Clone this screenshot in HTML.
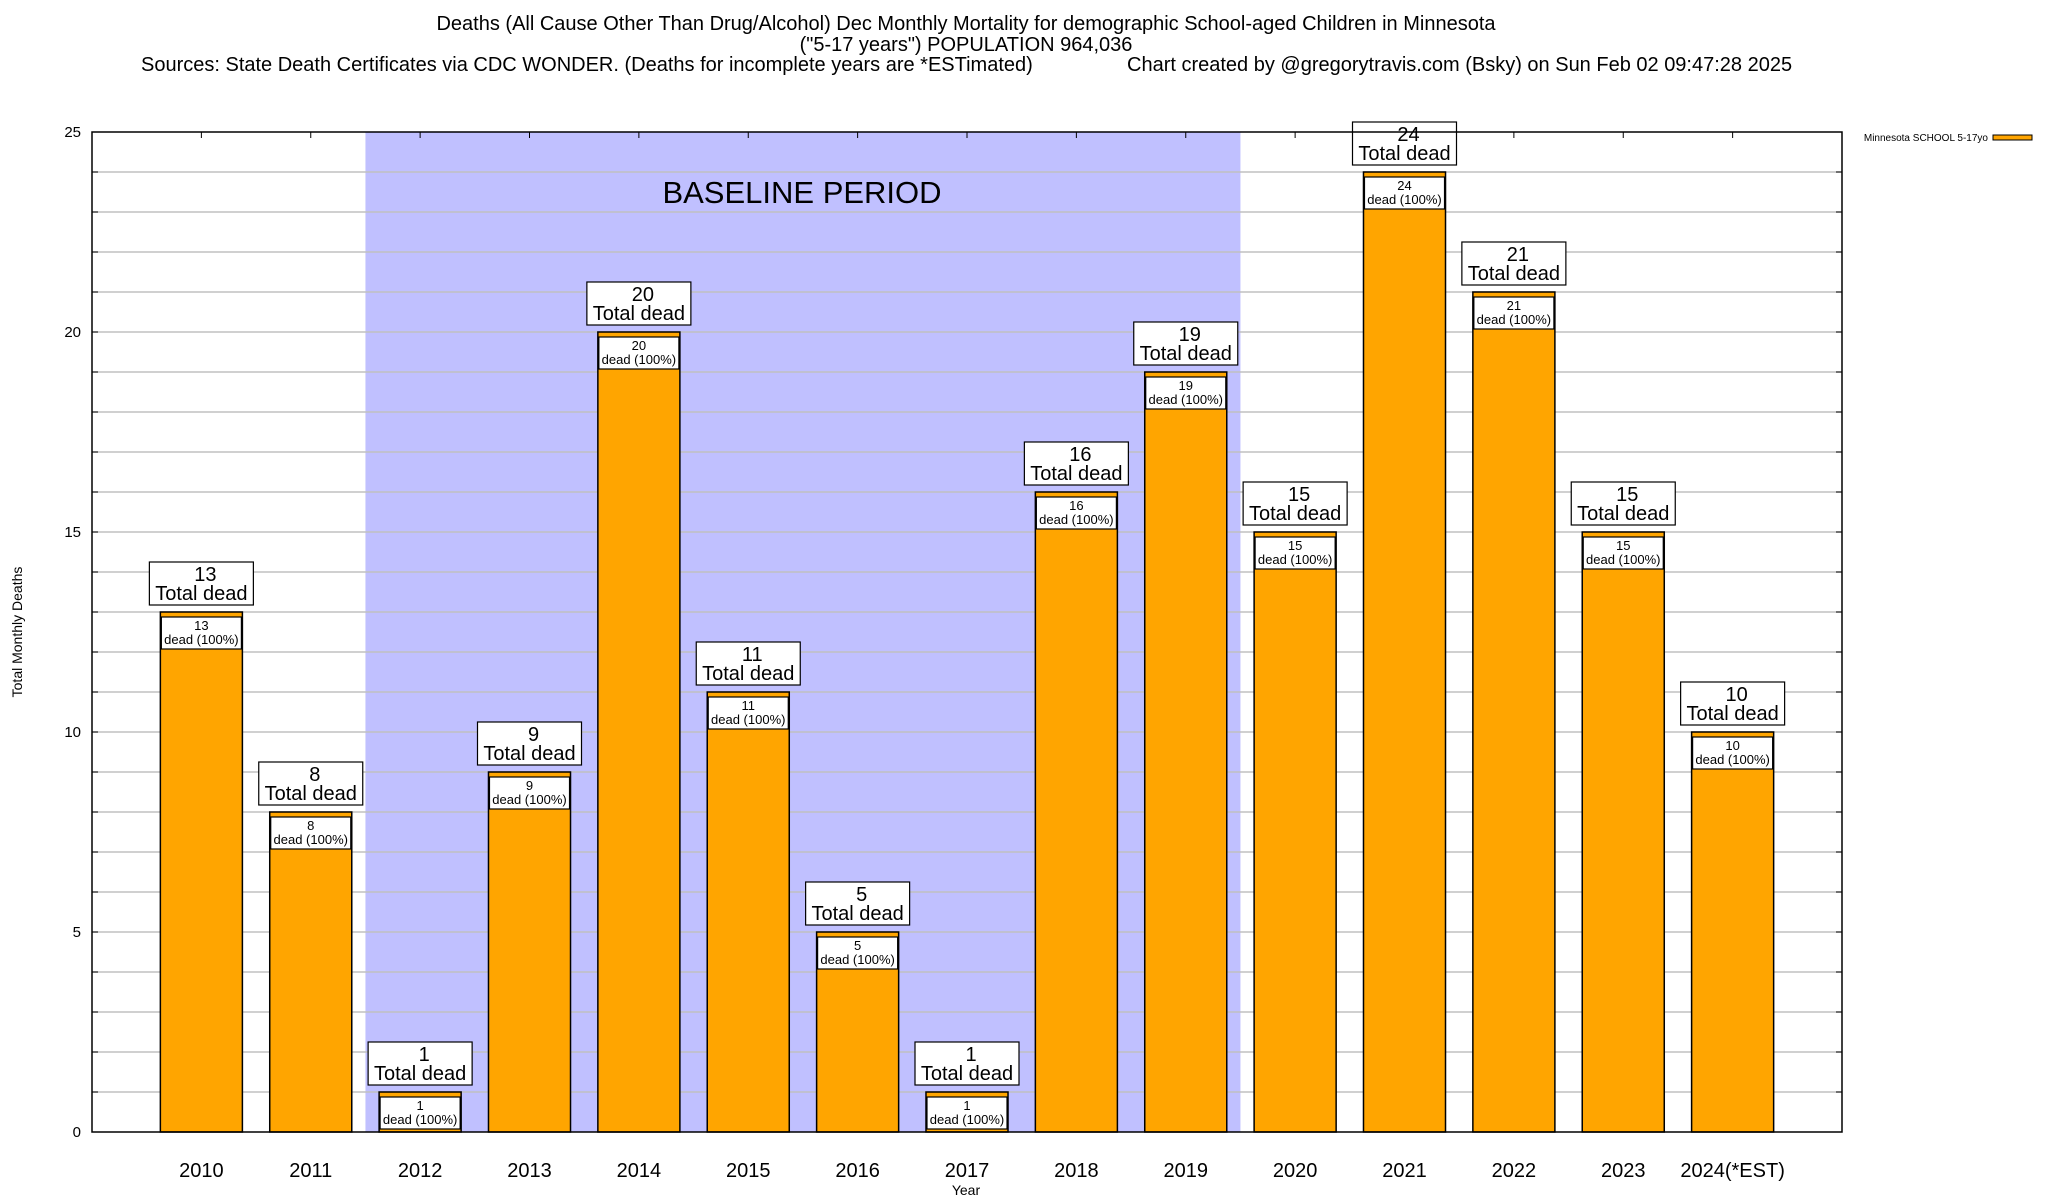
<!DOCTYPE html>
<html><head><meta charset="utf-8">
<style>
html,body{margin:0;padding:0;background:#fff;}
svg{display:block;font-family:"Liberation Sans",Arial,sans-serif;}
</style></head>
<body>
<svg id="chart" width="2048" height="1200" viewBox="0 0 2048 1200" xmlns="http://www.w3.org/2000/svg">
  <g font-size="20" fill="#000">
    <text x="966" y="30" text-anchor="middle">Deaths (All Cause Other Than Drug/Alcohol) Dec Monthly Mortality for demographic School-aged Children in Minnesota</text>
    <text x="966" y="51" text-anchor="middle">("5-17 years") POPULATION 964,036</text>
    <text x="141" y="71">Sources: State Death Certificates via CDC WONDER. (Deaths for incomplete years are *ESTimated)</text>
    <text x="1127" y="71">Chart created by @gregorytravis.com (Bsky) on Sun Feb 02 09:47:28 2025</text>
  </g>
  <g id="plot"></g>
  <text x="22" y="632" transform="rotate(-90 22 632)" text-anchor="middle" font-size="14">Total Monthly Deaths</text>
  <text x="966" y="1195" text-anchor="middle" font-size="14">Year</text>
  <g>
    <text x="1988" y="141" text-anchor="end" font-size="10">Minnesota SCHOOL 5-17yo</text>
    <rect x="1993" y="135" width="39" height="5" fill="#FFA500" stroke="#000" stroke-width="1"/>
  </g>
</svg>
<script>
const categories = ["2010","2011","2012","2013","2014","2015","2016","2017","2018","2019","2020","2021","2022","2023","2024(*EST)"];
const values = [13,8,1,9,20,11,5,1,16,19,15,24,21,15,10];
const yTicks = [0,5,10,15,20,25];
const baseline = [1.5, 9.5];

const NS = "http://www.w3.org/2000/svg";
const L = 92, R = 1842, T = 132, B = 1132;
const xmin = -1, xmax = 15, ymax = 25;
const xs = i => L + (i - xmin) / (xmax - xmin) * (R - L);
const ys = v => B - v / ymax * (B - T);
const unit = (R - L) / (xmax - xmin);
const g = document.getElementById('plot');
function el(tag, attrs, text) {
  const e = document.createElementNS(NS, tag);
  for (const k in attrs) e.setAttribute(k, attrs[k]);
  if (text !== undefined) e.textContent = text;
  g.appendChild(e);
  return e;
}
let e;
e = el('rect', {x: xs(baseline[0]), y: T, width: xs(baseline[1]) - xs(baseline[0]), height: B - T, fill: '#C0C0FF'});


for (let v = 1; v < ymax; v++) {
  e = el('line', {x1: L, x2: R, y1: ys(v), y2: ys(v), stroke: '#c0c0c0', 'stroke-width': 1.5});
  
  
  el('line', {x1: L, x2: L + 6, y1: ys(v), y2: ys(v), stroke: '#000'});
  el('line', {x1: R - 6, x2: R, y1: ys(v), y2: ys(v), stroke: '#000'});
}
e = el('text', {x: 802, y: 203, 'text-anchor': 'middle', 'font-size': 31}, 'BASELINE PERIOD');


yTicks.forEach(v => {
  e = el('text', {x: 81, y: ys(v) + 5, 'text-anchor': 'end', 'font-size': 15}, String(v));
  
  
});
categories.forEach((c, i) => {
  const v = values[i];
  const cx = xs(i), w = unit * 0.75, x0 = cx - w / 2, top = ys(v);
  e = el('line', {x1: cx, x2: cx, y1: T, y2: T + 6, stroke: '#000'});
  
  
  e = el('rect', {x: x0, y: top, width: w, height: B - top, fill: '#FFA500', stroke: '#000', 'stroke-width': 1.5});
  
  
  const bt = top + 5, bb = Math.min(top + 37, B - 3);
  e = el('rect', {x: x0 + 1, y: bt, width: w - 2, height: bb - bt, fill: '#fff', stroke: '#000', 'stroke-width': 1.2});
  
  
  e = el('text', {x: cx, y: bt + 13, 'text-anchor': 'middle', 'font-size': 13}, String(v));
  
  
  e = el('text', {x: cx, y: bt + 27, 'text-anchor': 'middle', 'font-size': 13}, 'dead (100%)');
  
  
  const lb = top - 7, lt = lb - 43;
  e = el('rect', {x: cx - 52, y: lt, width: 104, height: 43, fill: '#fff', stroke: '#000', 'stroke-width': 1.2});
  
  
  e = el('text', {x: cx + 4, y: lt + 19, 'text-anchor': 'middle', 'font-size': 20}, String(v));
  
  
  e = el('text', {x: cx, y: lt + 38, 'text-anchor': 'middle', 'font-size': 20}, 'Total dead');
  
  
  e = el('text', {x: cx, y: 1177, 'text-anchor': 'middle', 'font-size': 20}, c);
  
  
});
e = el('rect', {x: L, y: T, width: R - L, height: B - T, fill: 'none', stroke: '#000', 'stroke-width': 1.5});


</script>
</body></html>
